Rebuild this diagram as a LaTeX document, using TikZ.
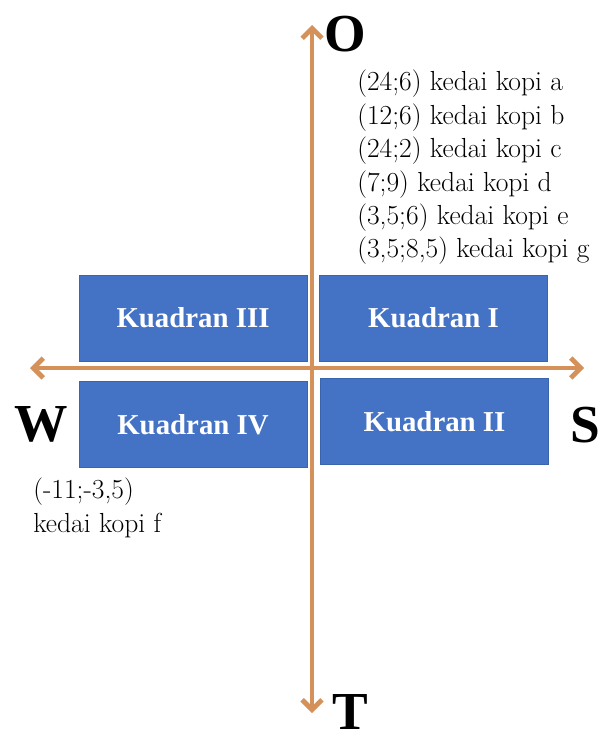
\documentclass[tikz,border=0pt]{standalone}
\usepackage{fontspec}
\usepackage{tikz}
\usetikzlibrary{arrows.meta,positioning}
\newfontfamily\quadfont{Liberation Serif}
\definecolor{axisorange}{HTML}{D4915A}
\definecolor{quadblue}{HTML}{4472C4}
\definecolor{quadedge}{HTML}{3A64AE}
\tikzset{
axis/.style={draw=axisorange, line width=3.4pt, >={Straight Barb[length=7pt,width=14pt]}, <->}, % the two compass lines
quad/.style={fill=quadblue, draw=quadedge, line width=0.6pt, minimum width=5.7cm, minimum height=2.15cm, text=white, font=\quadfont\bfseries\fontsize{20.5}{20.5}\selectfont}, % the four boxes
pole/.style={font=\quadfont\bfseries\fontsize{38}{38}\selectfont, inner sep=0pt}, % O W S T
shop/.style={anchor=base west, inner sep=0pt, font=\fontsize{19.6}{22}\selectfont}
}
\begin{document}
\begin{tikzpicture}[x=0.025cm, y=0.025cm]
    \useasboundingbox (0,0) rectangle (603,-740);
    % quadrant boxes
    \node [quad] (q3) at (193,-318) {Kuadran III};
    \node [quad] (q1) at (433.5,-318) {Kuadran I};
    \node [quad] (q4) at (193,-424.5) {Kuadran IV};
    \node [quad] (q2) at (434.5,-421.5) {Kuadran II};
    % axis ends
    \coordinate (north) at (312,-25);
    \coordinate (south) at (312,-713);
    \coordinate (west) at (30,-368);
    \coordinate (east) at (584,-368);
    \draw [axis] (south) -- (north);
    \draw [axis] (west) -- (east);
    % compass letters
    \node [pole] (O) at (345,-34) {O};
    \node [pole] (W) at (41,-424) {W};
    \node [pole] (S) at (585,-425) {S};
    \node [pole] (T) at (350,-712) {T};
    % coffee shop points
    \foreach \txt [count=\i] in {{(24;6) kedai kopi a}, {(12;6) kedai kopi b}, {(24;2) kedai kopi c}, {(7;9) kedai kopi d}, {(3,5;6) kedai kopi e}, {(3,5;8,5) kedai kopi g}}
        \node [shop] (shop\i) at (357,-91-33.4*\i+33.4) {\txt};
    \node [shop] (shopf1) at (33,-498) {(-11;-3,5)};
    \node [shop] (shopf2) at (33,-532) {kedai kopi f};
\end{tikzpicture}
\end{document}
